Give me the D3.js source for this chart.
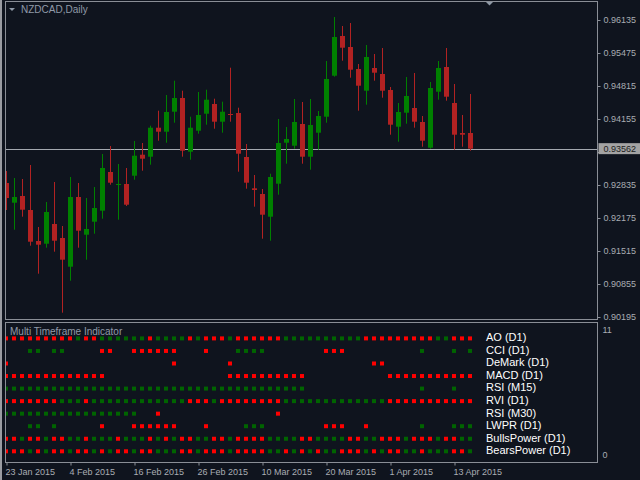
<!DOCTYPE html>
<html>
<head>
<meta charset="utf-8">
<script src="https://cdn.jsdelivr.net/npm/d3@7/dist/d3.min.js"></script>
<style>
  html, body { margin: 0; padding: 0; background: #0f141e; }
  svg { display: block; }
  text { font-family: "Liberation Sans", Arial, sans-serif; }
</style>
</head>
<body>
<svg id="chart" width="640" height="480"></svg>
<script>
// ---- DATA ----
const symbolTitle = "NZDCAD,Daily";
const openP  = [0.92875,0.92481,0.92615,0.92335,0.91715,0.91661,0.92055,0.91775,0.91201,0.92595,
                0.91841,0.92101,0.92321,0.93095,0.92851,0.92855,0.93021,0.93441,0.93401,0.93981,
                0.93901,0.94301,0.94575,0.93501,0.93921,0.94261,0.94455,0.94101,0.94255,0.94275,
                0.93395,0.92769,0.92655,0.92201,0.92861,0.93681,0.93621,0.94055,0.93401,0.93881,
                0.94201,0.95021,0.95815,0.95595,0.95155,0.94721,0.95175,0.95055,0.94735,0.94001,
                0.94281,0.94375,0.94095,0.93581,0.94701,0.95195,0.94475,0.93875,0.93875];
const highP  = [0.93115,0.92975,0.92955,0.93235,0.91995,0.92495,0.92895,0.92015,0.92995,0.92875,
                0.92575,0.92795,0.93455,0.93615,0.93255,0.93175,0.93715,0.93675,0.94021,0.94321,
                0.94635,0.94921,0.94721,0.94201,0.94695,0.94741,0.94561,0.94501,0.95181,0.94381,
                0.93655,0.93035,0.92755,0.93061,0.94155,0.93995,0.94555,0.94495,0.94555,0.94315,
                0.95315,0.96195,0.96015,0.96075,0.95255,0.95635,0.95455,0.95575,0.94795,0.94475,
                0.94995,0.95075,0.94215,0.94895,0.95315,0.95575,0.94855,0.94235,0.94655];
const lowP   = [0.92335,0.91941,0.92201,0.91621,0.91061,0.91581,0.91501,0.90281,0.90921,0.91581,
                0.91341,0.91861,0.92161,0.92841,0.92141,0.92415,0.92941,0.93121,0.93241,0.93721,
                0.93681,0.94081,0.93401,0.93341,0.93861,0.94041,0.93961,0.93881,0.94101,0.93101,
                0.92761,0.92401,0.91761,0.91721,0.92641,0.93261,0.93561,0.93261,0.93141,0.93541,
                0.94081,0.95001,0.95321,0.94981,0.94321,0.94441,0.94921,0.94581,0.93841,0.93701,
                0.94061,0.93981,0.93601,0.93561,0.94541,0.94521,0.93541,0.93601,0.93521];
const closeP = [0.92575,0.92595,0.92341,0.91701,0.91641,0.92295,0.91721,0.91341,0.92595,0.91921,
                0.91955,0.92375,0.93175,0.92881,0.92855,0.92441,0.93421,0.93361,0.93981,0.93901,
                0.94295,0.94575,0.93521,0.93981,0.94235,0.94541,0.94101,0.94301,0.94251,0.93461,
                0.92881,0.92735,0.92241,0.92995,0.93675,0.93755,0.94095,0.93401,0.94035,0.94215,
                0.94955,0.95795,0.95581,0.95141,0.94821,0.95395,0.95081,0.94721,0.94041,0.94295,
                0.94615,0.94101,0.93721,0.94775,0.95175,0.94601,0.93841,0.93841,0.93562];
const currentPrice = 0.93562;
const priceTicks = [0.96135,0.95475,0.94815,0.94155,0.93495,0.92835,0.92175,0.91515,0.90855,0.90195];
const dateTickBars = [0, 8, 16, 24, 32, 40, 48, 56];
const dateLabels = ["23 Jan 2015","4 Feb 2015","16 Feb 2015","26 Feb 2015","10 Mar 2015","20 Mar 2015","1 Apr 2015","13 Apr 2015"];

const panelTitle = "Multi Timeframe Indicator";
const indicators = ["AO (D1)","CCI (D1)","DeMark (D1)","MACD (D1)","RSI (M15)","RVI (D1)","RSI (M30)","LWPR (D1)","BullsPower (D1)","BearsPower (D1)"];
// R = bearish (red), G = bullish (green), . = no signal ; one char per daily bar
const signals = [
  "RRRRRRRRRGRRGGGGGGRGGGGRGRRRGRRRRRRGGGGGGGGGGRRRRRRRRRGGRRR",
  "...GG.GG....RR..RRRRRR...R...GGGG.......RRR.........G...G.G",
  "R....................R......R.................RR...........",
  "RRRRRRRRRRRRR...............RRRRRRRRRR..........RRRRRRRRRRR",
  "GGGGGGGGGGGGGGGGGGGGGGGGGGGGGGGGGGGGGG..............G...G..",
  "RRRRRRRGGGRGGGGGGGGGGGGRRRGRRRRRRRRGGGGGGGGGGGGGRRRRRRRRRRR",
  "GGGGGGGGGGGGGGGGG..R..............R........................",
  "...GG.G.....R...RRRRRR...R....GGG.......RRR..R......G...GGG",
  "RRGRRGRRGGRGGGRGGGRGRGRRGGRRGRRRRGGGGRRGGGGRRGGRRRGRRRGRRGG",
  "RRRGRGRRGRRGRGRRGRRGGGRRGRRRGRRRRGGRGRGRGGRRRGRGRRGGRGGGRRG"
];
const indScaleTicks = [0, 11];

// ---- STYLE ----
const BG = "#0f141e", BORDER = "#8a8e96", AXIS_TXT = "#a9adb3";
const CANDLE_UP = "#008000", CANDLE_DN = "#b22222";
const DOT_UP = "#006400", DOT_DN = "#ff0000";

const svg = d3.select("#chart");
svg.append("rect").attr("width", 640).attr("height", 480).attr("fill", BG);
svg.append("rect").attr("x", 0).attr("y", 0).attr("width", 2).attr("height", 480).attr("fill", "#9a9ca2");

const main = {l: 5.5, r: 597.5, t: 1.5, b: 319.5};
const ind  = {l: 5.5, r: 597.5, t: 322.5, b: 462.5};

const x = d3.scaleLinear().domain([0, openP.length - 1]).range([6.5, 470.5]);
const y = d3.scaleLinear().domain([0.90195, 0.96135]).range([317, 20]);

const defs = svg.append("defs");
defs.append("clipPath").attr("id", "clipMain").append("rect")
  .attr("x", main.l + 0.5).attr("y", main.t + 0.5).attr("width", main.r - main.l - 1).attr("height", main.b - main.t - 1);
defs.append("clipPath").attr("id", "clipInd").append("rect")
  .attr("x", ind.l + 0.5).attr("y", ind.t + 0.5).attr("width", ind.r - ind.l - 1).attr("height", ind.b - ind.t - 1);

// ---- MAIN PANEL ----
const gMain = svg.append("g").attr("clip-path", "url(#clipMain)");
const bars = openP.map((o, i) => ({i, o, h: highP[i], l: lowP[i], c: closeP[i]}));

// current price line
gMain.append("line")
  .attr("x1", main.l).attr("x2", main.r)
  .attr("y1", Math.round(y(currentPrice)) + 0.5).attr("y2", Math.round(y(currentPrice)) + 0.5)
  .attr("stroke", "#a4a9b0").attr("stroke-width", 1);

const cg = gMain.selectAll("g.candle").data(bars).join("g").attr("class", "candle");
cg.append("line")
  .attr("x1", d => x(d.i)).attr("x2", d => x(d.i))
  .attr("y1", d => y(d.h)).attr("y2", d => y(d.l))
  .attr("stroke", d => d.c >= d.o ? CANDLE_UP : CANDLE_DN).attr("stroke-width", 1);
cg.append("rect")
  .attr("x", d => x(d.i) - 2.5).attr("width", 5)
  .attr("y", d => y(Math.max(d.o, d.c)))
  .attr("height", d => Math.max(1, y(Math.min(d.o, d.c)) - y(Math.max(d.o, d.c))))
  .attr("fill", d => d.c >= d.o ? CANDLE_UP : CANDLE_DN);

// main border
svg.append("rect").attr("x", main.l).attr("y", main.t)
  .attr("width", main.r - main.l).attr("height", main.b - main.t)
  .attr("fill", "none").attr("stroke", BORDER);

// title
svg.append("path").attr("d", "M9,8 L15,8 L12,11 Z").attr("fill", "#8f99a6");
svg.append("text").attr("x", 21).attr("y", 12.7).attr("font-size", 10)
  .attr("fill", "#8f9aa8").text(symbolTitle);
// shift marker
svg.append("path").attr("d", "M486,2 L493,2 L489.5,5.5 Z").attr("fill", "#8f99a6");

// price axis (the label hidden under the current-price box is not printed)
const fmt5 = d3.format(".5f");
const cy = y(currentPrice);
const yAxis = d3.axisRight(y).tickValues(priceTicks)
  .tickFormat(d => Math.abs(y(d) - cy) < 10 ? "" : fmt5(d)).tickSize(3).tickPadding(3);
const gy = svg.append("g").attr("transform", `translate(${main.r},0)`).call(yAxis);
gy.select(".domain").remove();
gy.selectAll("line").attr("stroke", BORDER);
gy.selectAll("text").attr("fill", AXIS_TXT).attr("font-size", 9)
  .attr("font-family", "Liberation Sans, Arial, sans-serif");

// current price box
svg.append("rect").attr("x", 598.5).attr("y", cy - 5.5).attr("width", 42).attr("height", 11).attr("fill", "#a3a3a3");
svg.append("text").attr("x", 603.5).attr("y", cy).attr("dy", "0.32em")
  .attr("font-size", 9).attr("fill", "#1c1c1c").text(fmt5(currentPrice));

// ---- INDICATOR PANEL ----
const row = d3.scalePoint().domain(indicators).range([338.4, 451.3]);
const gInd = svg.append("g").attr("clip-path", "url(#clipInd)");
const cells = [];
indicators.forEach((name, r) => {
  for (let i = 0; i < signals[r].length; i++) {
    const s = signals[r][i];
    if (s !== ".") cells.push({name, i, s});
  }
});
gInd.selectAll("rect.cell").data(cells).join("rect").attr("class", "cell")
  .attr("x", d => x(d.i) - 2.5).attr("y", d => row(d.name) - 2)
  .attr("width", 4).attr("height", 4)
  .attr("fill", d => d.s === "R" ? DOT_DN : DOT_UP);

svg.selectAll("text.leg").data(indicators).join("text").attr("class", "leg")
  .attr("x", 486).attr("y", d => row(d) - 1).attr("dy", "0.35em")
  .attr("font-size", 11).attr("fill", "#ffffff").text(d => d);

svg.append("text").attr("x", 10).attr("y", 335).attr("font-size", 10)
  .attr("fill", "#8f9aa8").text(panelTitle);

svg.append("rect").attr("x", ind.l).attr("y", ind.t)
  .attr("width", ind.r - ind.l).attr("height", ind.b - ind.t)
  .attr("fill", "none").attr("stroke", BORDER);

const yInd = d3.scaleLinear().domain([0, 11]).range([455, 330]);
const gyi = svg.append("g").attr("transform", `translate(${ind.r},0)`)
  .call(d3.axisRight(yInd).tickValues(indScaleTicks).tickFormat(d3.format("d")).tickSize(0).tickPadding(5));
gyi.select(".domain").remove();
gyi.selectAll("text").attr("fill", AXIS_TXT).attr("font-size", 9)
  .attr("font-family", "Liberation Sans, Arial, sans-serif");

// ---- DATE AXIS ----
const xAxis = d3.axisBottom(x).tickValues(dateTickBars)
  .tickFormat((d, k) => dateLabels[k]).tickSize(3);
const gx = svg.append("g").attr("transform", `translate(0,${ind.b})`).call(xAxis);
gx.select(".domain").remove();
gx.selectAll("line").attr("stroke", BORDER);
gx.selectAll("text").attr("fill", AXIS_TXT).attr("font-size", 9)
  .attr("font-family", "Liberation Sans, Arial, sans-serif")
  .attr("text-anchor", "start").attr("x", -1.5).attr("y", 6.6);
</script>
</body>
</html>
